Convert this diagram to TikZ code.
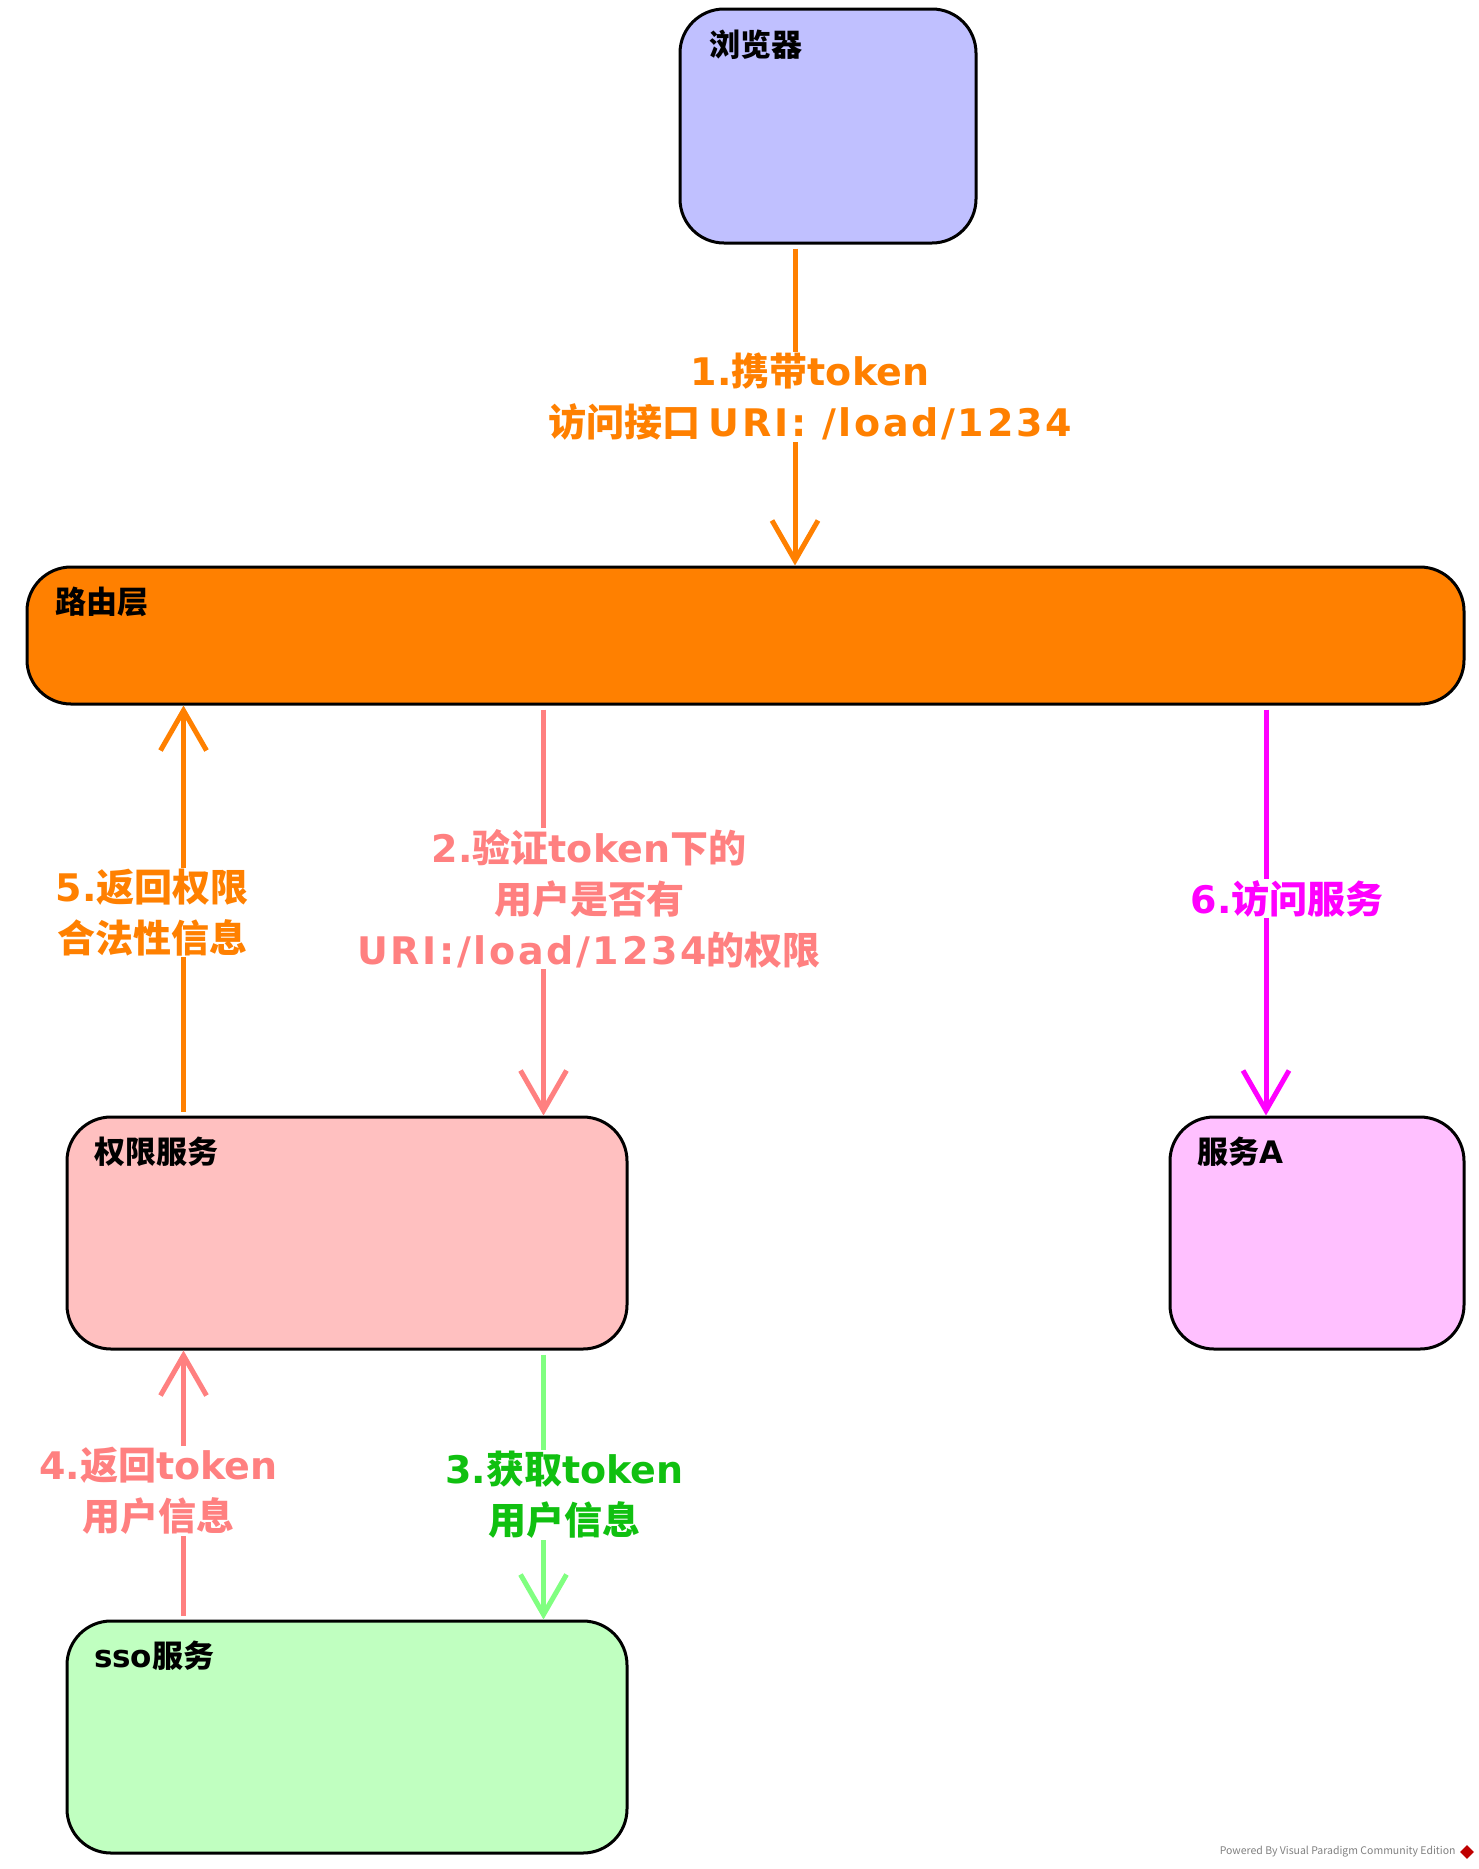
\documentclass[tikz,border=0pt]{standalone}
\usepackage{fontspec}
\setmainfont{Noto Sans CJK SC}
\newfontfamily\latinfont{DejaVu Sans}
\newfontfamily\urifont[LetterSpace=7]{DejaVu Sans}
\newcommand\lat[1]{{\latinfont #1}}
\newcommand\uri[1]{{\urifont #1}}
\usepackage{tikz}
\usetikzlibrary{arrows.meta,shapes.geometric}

\definecolor{browserblue}{HTML}{C0C0FF}
\definecolor{routeorange}{HTML}{FF8000}
\definecolor{permpink}{HTML}{FFC0C0}
\definecolor{svcpink}{HTML}{FFC0FF}
\definecolor{ssogreen}{HTML}{C0FFC0}
\definecolor{salmon}{HTML}{FF8080}
\definecolor{lightgreen}{HTML}{80FF80}
\definecolor{darkgreen}{HTML}{10C010}
\definecolor{vpmagenta}{HTML}{FF00FF}

\begin{document}
\begin{tikzpicture}[x=1pt, y=-1pt, line width=3pt,
  box/.style={draw=black, rounded corners=44pt, inner sep=0pt},
  boxtitle/.style={anchor=west, inner sep=0pt, font=\fontsize{31}{31}\selectfont\bfseries},
  flow/.style={line width=5pt, -{Straight Barb[length=40pt,width=46pt]}, shorten <=4pt},
  flowlabel/.style={fill=white, inner sep=1pt, align=center, font=\fontsize{38}{51}\selectfont\bfseries}]
\useasboundingbox (0,0) rectangle (1479,1869);

\node[box, fill=browserblue, minimum width=296pt, minimum height=234pt] (browser) at (828,126) {};
\node[boxtitle] (browsertitle) at ([shift={(29,37)}]browser.north west) {浏览器};

\node[box, fill=routeorange, minimum width=1437pt, minimum height=137pt] (router) at (745.5,635.5) {};
\node[boxtitle] (routertitle) at ([shift={(28,36)}]router.north west) {路由层};

\node[box, fill=permpink, minimum width=560pt, minimum height=232pt] (perm) at (347,1233) {};
\node[boxtitle] (permtitle) at ([shift={(27,36)}]perm.north west) {权限服务};

\node[box, fill=svcpink, minimum width=294pt, minimum height=232pt] (svca) at (1317,1233) {};
\node[boxtitle] (svcatitle) at ([shift={(27,36)}]svca.north west) {服务\lat{A}};

\node[box, fill=ssogreen, minimum width=560pt, minimum height=232pt] (sso) at (347,1737) {};
\node[boxtitle] (ssotitle) at ([shift={(27,36)}]sso.north west) {\lat{sso}服务};

\draw[flow, routeorange] ([xshift=-33pt]browser.south) -- node[flowlabel, text=routeorange, xshift=15pt, yshift=8pt] (lblone) {\lat{1.}携带\lat{token}\\访问接口 \uri{URI: /load/1234}} ([xshift=-33pt]browser.south |- router.north);

\draw[flow, salmon] ([xshift=196.5pt]perm.north |- router.south) -- node[flowlabel, text=salmon, xshift=45.5pt, yshift=12pt] (lbltwo) {\lat{2.}验证\lat{token}下的\\用户是否有\\\uri{URI:/load/1234}的权限} ([xshift=196.5pt]perm.north);

\draw[flow, routeorange] ([xshift=-163.5pt]perm.north) -- node[flowlabel, text=routeorange, xshift=-31.5pt, yshift=-2pt] (lblfive) {\lat{5.}返回权限\\合法性信息} ([xshift=-163.5pt]perm.north |- router.south);

\draw[flow, vpmagenta] ([xshift=-51pt]svca.north |- router.south) -- node[flowlabel, text=vpmagenta, xshift=21pt, yshift=12pt] (lblsix) {\lat{6.}访问服务} ([xshift=-51pt]svca.north);

\draw[flow, lightgreen] ([xshift=196.5pt]perm.south) -- node[flowlabel, text=darkgreen, xshift=21pt, yshift=-10pt] (lblthree) {\lat{3.}获取\lat{token}\\用户信息} ([xshift=196.5pt]sso.north);

\draw[flow, salmon] ([xshift=-163.5pt]sso.north) -- node[flowlabel, text=salmon, xshift=-25pt, yshift=-6pt] (lblfour) {\lat{4.}返回\lat{token}\\用户信息} ([xshift=-163.5pt]perm.south);

\node[anchor=east, inner sep=0pt, text=gray, font=\fontsize{10.5}{12}\selectfont] (credit) at (1457,1852) {Powered By Visual Paradigm Community Edition};
\node[diamond, fill=red!75!black, minimum size=15pt, inner sep=0pt] (vplogo) at (1467,1852) {};
\end{tikzpicture}
\end{document}
